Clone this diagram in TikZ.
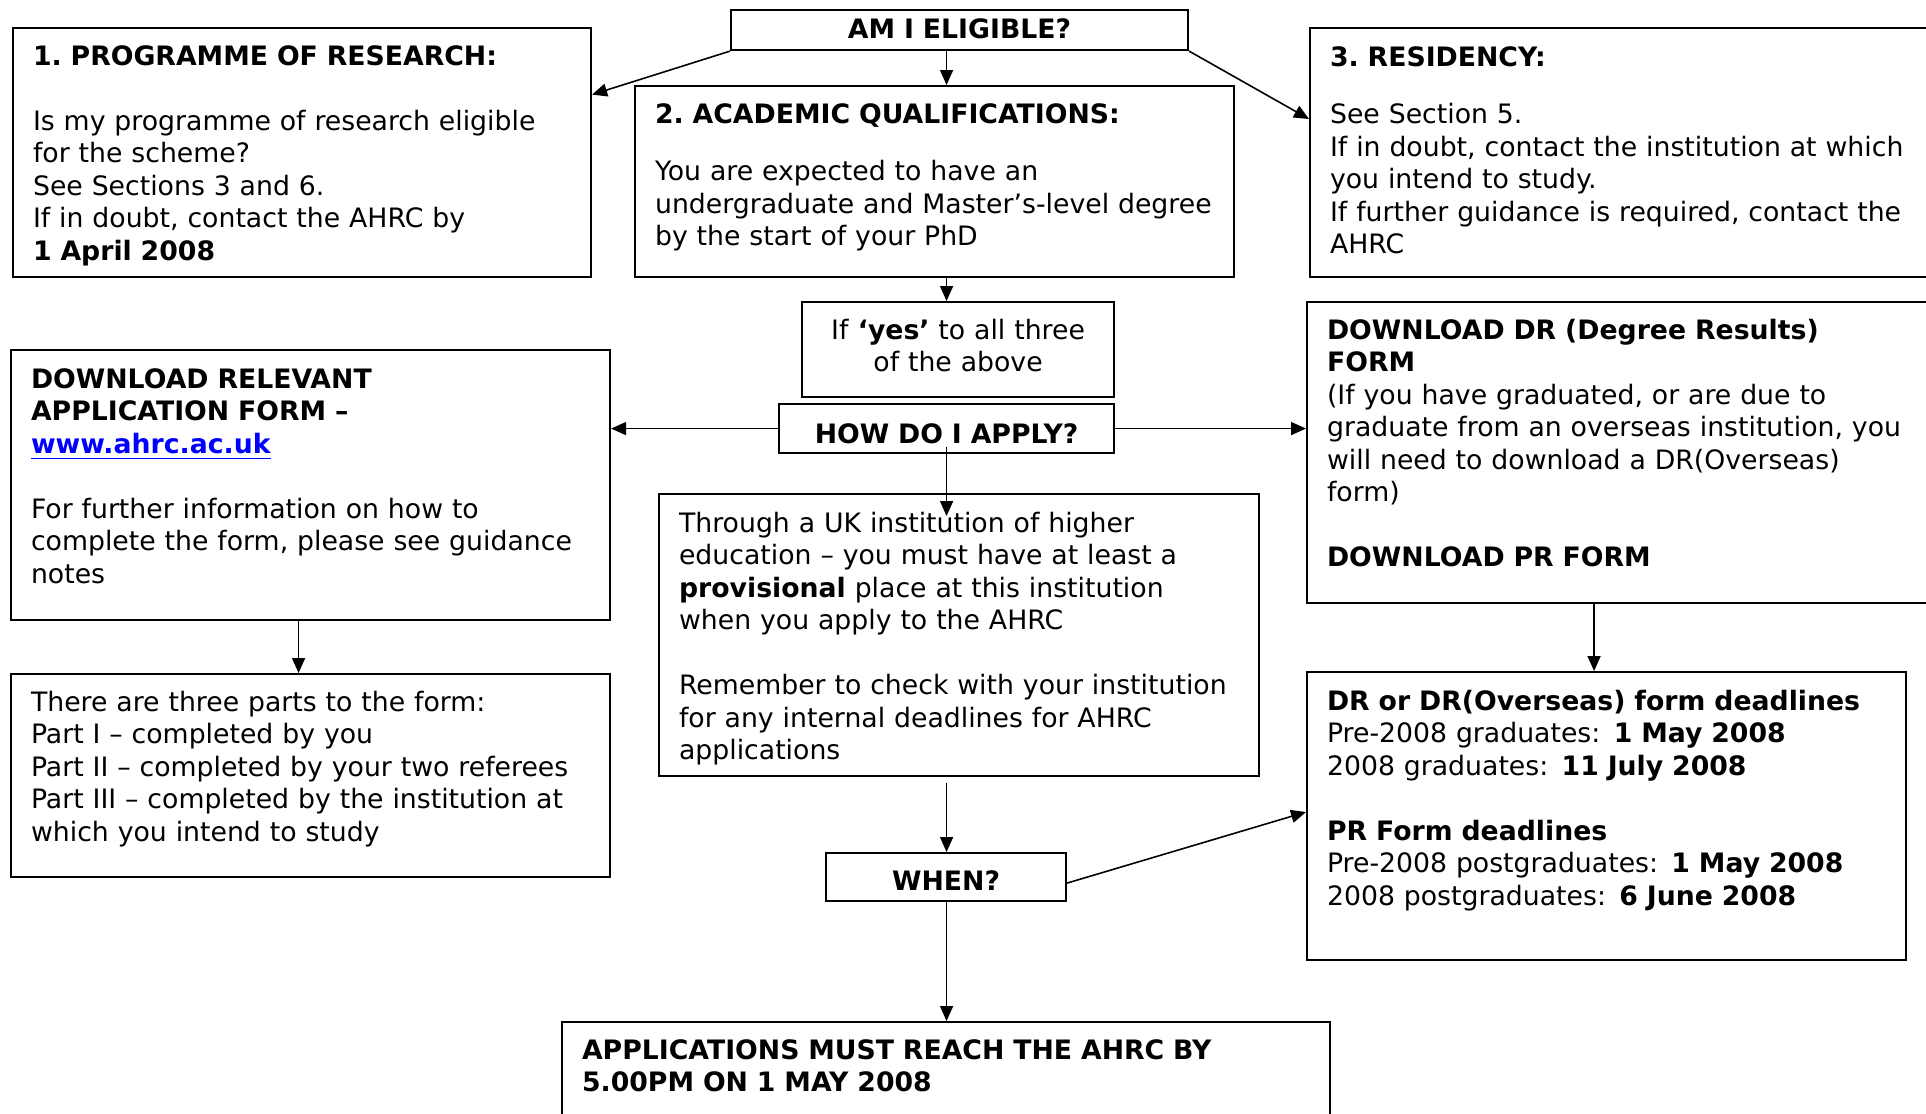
\documentclass[tikz,border=0pt]{standalone}
\usepackage{fontspec}
\setmainfont{DejaVu Sans}
\usepackage{xcolor}
\usetikzlibrary{arrows.meta, calc}
\frenchspacing

\begin{document}
\begin{tikzpicture}[
    box/.style n args={2}{rectangle, draw, line width=0.6pt, anchor=north west, align=left, inner xsep=0.2cm, inner ysep=0pt, text width=#1, text height=0.37cm, text depth=#2, font=\fontsize{7.6pt}{9.25pt}\selectfont},
    tag/.style n args={2}{box={#1}{#2}, align=center, inner xsep=0pt},
    arrow/.style={-{Triangle[length=1.5mm, width=1.3mm]}, line width=0.45pt}
]
\clip (0,0) rectangle (19.26,-11.13);

% Eligibility
\node[tag={4.57cm}{0.12cm}, text height=0.28cm] (elig) at (7.30,-0.09) {\textbf{AM I ELIGIBLE?}};
\node[box={5.38cm}{2.12cm}] (box1) at (0.12,-0.27) {\textbf{1. PROGRAMME OF RESEARCH:}\\[9.25pt] Is my programme of research eligible\\ for the scheme?\\ See Sections 3 and 6.\\ If in doubt, contact the AHRC by\\ \textbf{1 April 2008}};
\node[box={5.59cm}{1.54cm}] (box2) at (6.34,-0.85) {\textbf{2. ACADEMIC QUALIFICATIONS:}\\[7.2pt] You are expected to have an\\ undergraduate and Master’s-level degree\\ by the start of your PhD};
\node[box={6.0cm}{2.11cm}, text height=0.38cm] (box3) at (13.09,-0.27) {\textbf{3. RESIDENCY:}\\[7.2pt] See Section 5.\\ If in doubt, contact the institution at which\\ you intend to study.\\ If further guidance is required, contact the\\ AHRC};
\node[tag={3.12cm}{0.58cm}] (yes) at (8.01,-3.01) {If \textbf{‘yes’} to all three\\ of the above};

% Applying
\node[tag={3.35cm}{0.10cm}, text height=0.39cm] (how) at (7.78,-4.03) {\textbf{HOW DO I APPLY?}};
\node[box={5.59cm}{2.32cm}, text height=0.38cm] (dl) at (0.10,-3.49) {\textbf{DOWNLOAD RELEVANT}\\ \textbf{APPLICATION FORM –}\\ {\color{blue}\textbf{\underline{www.ahrc.ac.uk}}}\\[9.25pt] For further information on how to\\ complete the form, please see guidance\\ notes};
\node[box={5.59cm}{1.66cm}] (three) at (0.10,-6.73) {There are three parts to the form:\\ Part I – completed by you\\ Part II – completed by your two referees\\ Part III – completed by the institution at\\ which you intend to study};
\node[box={5.60cm}{2.44cm}, text height=0.38cm] (thru) at (6.58,-4.93) {Through a UK institution of higher\\ education – you must have at least a\\ \textbf{provisional} place at this institution\\ when you apply to the AHRC\\[9.25pt] Remember to check with your institution\\ for any internal deadlines for AHRC\\ applications};
\node[box={6.0cm}{2.64cm}] (dr) at (13.06,-3.01) {\textbf{DOWNLOAD DR (Degree Results)}\\ \textbf{FORM}\\ (If you have graduated, or are due to\\ graduate from an overseas institution, you\\ will need to download a DR(Overseas)\\ form)\\[9.25pt] \textbf{DOWNLOAD PR FORM}};

% Deadlines
\node[box={5.59cm}{2.50cm}, text height=0.38cm] (dead) at (13.06,-6.71) {\textbf{DR or DR(Overseas) form deadlines}\\ Pre-2008 graduates:\, \textbf{1 May 2008}\\ 2008 graduates:\, \textbf{11 July 2008}\\[9.25pt] \textbf{PR Form deadlines}\\ Pre-2008 postgraduates:\, \textbf{1 May 2008}\\ 2008 postgraduates:\, \textbf{6 June 2008}};
\node[tag={2.40cm}{0.11cm}] (when) at (8.25,-8.52) {\textbf{WHEN?}};
\node[box={7.28cm}{0.93cm}] (final) at (5.61,-10.21) {\textbf{APPLICATIONS MUST REACH THE AHRC BY}\\ \textbf{5.00PM ON 1 MAY 2008}};

% Connectors
\coordinate (drdrop) at ($(dead.north)+(-0.125,0)$);
\draw[arrow] (elig.south -| how.north) -- (box2.north -| how.north);
\draw[arrow] (elig.south west) -- ($(box1.north east)+(0,-0.676)$);
\draw[arrow] (elig.south east) -- ($(box3.north west)+(0,-0.92)$);
\draw[arrow] (box2.south -| how.north) -- (yes.north -| how.north);
\draw[arrow] (how.west) -- (how.west -| dl.east);
\draw[arrow] (how.east) -- (how.east -| dr.west);
\draw[arrow] ($(how.south)+(0,0.07)$) -- ($(thru.north -| how.south)+(0,-0.23)$);
\draw[arrow] ($(dl.south)+(-0.12,0)$) -- ($(three.north)+(-0.12,0)$);
\draw[arrow] (dr.south -| drdrop) -- (drdrop);
\draw[arrow] ($(thru.south -| how.south)+(0,-0.06)$) -- (when.north -| how.south);
\draw[arrow] ($(when.east)+(0,-0.06)$) -- ($(dead.north west)+(0,-1.41)$);
\draw[arrow] (when.south -| how.south) -- (final.north -| how.south);

\end{tikzpicture}
\end{document}
